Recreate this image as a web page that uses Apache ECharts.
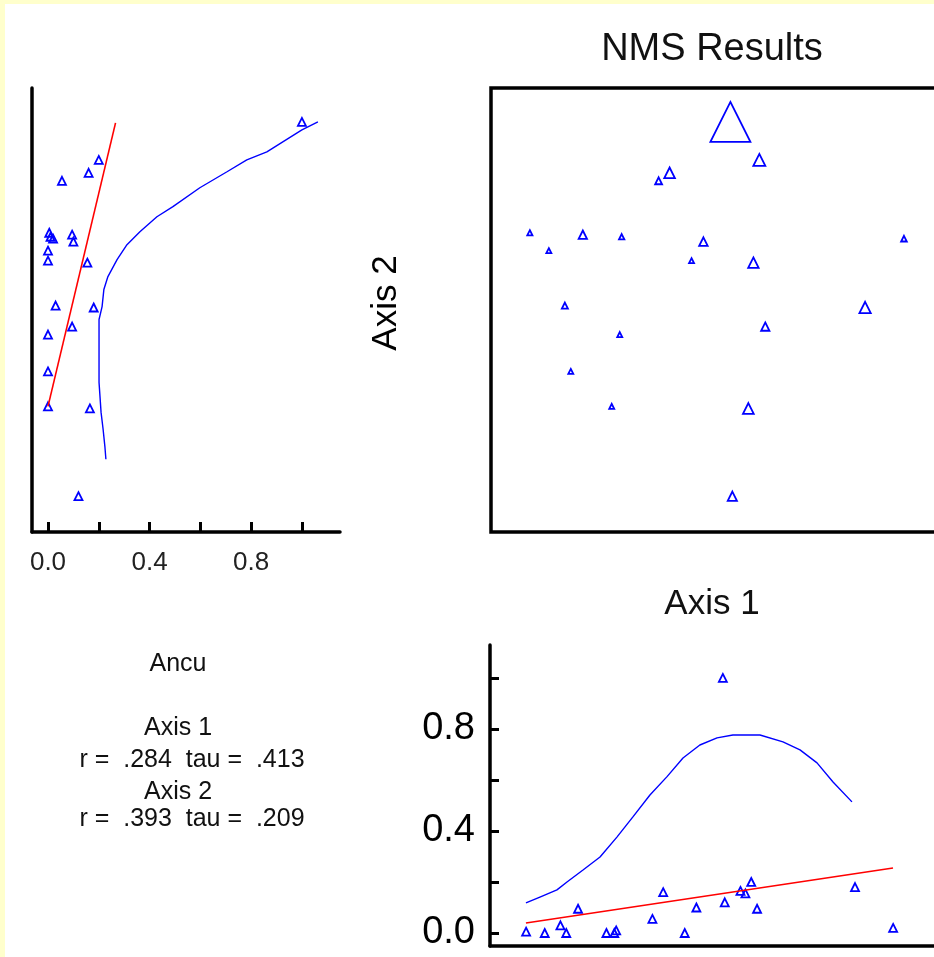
<!DOCTYPE html>
<html>
<head>
<meta charset="utf-8">
<script src="https://cdn.jsdelivr.net/npm/echarts@6/dist/echarts.min.js"></script>
<style>
  html, body { margin: 0; padding: 0; background: #fff; }
  #chart { width: 934px; height: 957px; }
</style>
</head>
<body>
<div id="chart"></div>
<script>
// NMS scores of the 20 sample units and the Ancu value of each
const axis1 = [0.114, 0.309, -0.296, -0.370, -1.238, -0.881, -0.619, -0.068, 1.284, -1.110,
               -0.148, 0.269, -1.002, 1.022, 0.349, -0.632, -0.962, -0.686, 0.235, 0.127];
const axis2 = [1.271, 1.014, 0.927, 0.873, 0.522, 0.509, 0.495, 0.462, 0.482, 0.401,
               0.333, 0.320, 0.030, 0.017, -0.112, -0.166, -0.415, -0.651, -0.665, -1.258];
const ancu = [1.0, 0.20, 0.16, 0.055, 0.005, 0.095, 0.01, 0.10, 0.02, 0.0,
              0.0, 0.155, 0.03, 0.18, 0.095, 0.0, 0.0, 0.0, 0.165, 0.12];

// linear fit and smoothed curve: Ancu against Axis 2 (left panel)
const leftLineAncu = [0.0, 0.266];
const leftLineAxis2 = [-0.651, 1.264];
const leftCurveAncu = [1.063, 1.0, 0.862, 0.783, 0.705, 0.598, 0.492, 0.429, 0.362, 0.311,
                       0.272, 0.236, 0.220, 0.213, 0.201, 0.201, 0.201, 0.209, 0.217, 0.224, 0.228];
const leftCurveAxis2 = [1.271, 1.217, 1.068, 1.014, 0.934, 0.826, 0.698, 0.630, 0.529, 0.441,
                        0.340, 0.226, 0.138, 0.023, -0.064, -0.246, -0.489, -0.692, -0.806, -0.921, -1.008];

// linear fit and smoothed curve: Ancu against Axis 1 (bottom panel)
const bottomLineAxis1 = [-1.239, 1.283];
const bottomLineAncu = [0.039, 0.255];
const bottomCurveAxis1 = [-1.239, -1.143, -1.026, -0.957, -0.847, -0.730, -0.614, -0.504, -0.387, -0.271,
                          -0.160, -0.044, 0.074, 0.183, 0.369, 0.527, 0.644, 0.761, 0.871, 1.001];
const bottomCurveAncu = [0.118, 0.141, 0.169, 0.200, 0.247, 0.298, 0.376, 0.455, 0.541, 0.612,
                         0.686, 0.737, 0.765, 0.776, 0.776, 0.749, 0.718, 0.667, 0.592, 0.514];

const ancuTicks = [0, 0.2, 0.4, 0.6, 0.8, 1.0];
const ancuLabels = [0, 0.4, 0.8];

const statLines = ['Ancu', '', 'Axis 1', 'r =  .284  tau =  .413', 'Axis 2', 'r =  .393  tau =  .209'];

const BLUE = '#0000ff';
const RED = '#ff0000';
const FONT = '"Liberation Sans", Arial, sans-serif';

const zip = (a, b) => a.map((v, i) => [v, b[i]]);

const axisLine = { show: true, onZero: false, lineStyle: { color: '#000', width: 3.5 } };

const tri = {
  symbol: 'triangle',
  itemStyle: { color: 'rgba(0,0,0,0)', borderColor: BLUE, borderWidth: 1.8, opacity: 1 }
};

const chart = echarts.init(document.getElementById('chart'));

const texts = [
  { text: 'NMS Results', x: 712, y: 50, size: 38 },
  { text: 'Axis 1', x: 712, y: 604, size: 35 },
  { text: statLines[0], x: 178, y: 664, size: 25 },
  { text: statLines[2], x: 178, y: 728, size: 25 },
  { text: statLines[3], x: 192, y: 760, size: 25 },
  { text: statLines[4], x: 178, y: 792, size: 25 },
  { text: statLines[5], x: 192, y: 819, size: 25 }
];

let option = {
  backgroundColor: '#fff',
  animation: false,
  grid: [
    { left: 32, top: 88, width: 308, height: 444, outerBoundsMode: 'none' },
    { left: 491, top: 88, width: 445, height: 444, show: true, borderColor: '#000',
      borderWidth: 3.5, backgroundColor: 'rgba(0,0,0,0)', outerBoundsMode: 'none' },
    { left: 490, top: 645, width: 450, height: 301, outerBoundsMode: 'none' }
  ],
  xAxis: [
    {
      gridIndex: 0, type: 'value', min: -0.063, max: 1.150,
      axisLine: axisLine,
      axisTick: { show: true, inside: true, length: 10, customValues: ancuTicks,
                  lineStyle: { color: '#000', width: 3 } },
      axisLabel: { customValues: ancuLabels, formatter: v => v.toFixed(1), margin: 18,
                   fontSize: 26, fontFamily: FONT, color: '#222' },
      splitLine: { show: false }
    },
    { gridIndex: 1, type: 'value', min: -1.5, max: 1.5, show: false },
    {
      gridIndex: 2, type: 'value', min: -1.486, max: 1.606,
      axisLine: axisLine, axisTick: { show: false }, axisLabel: { show: false },
      splitLine: { show: false }
    }
  ],
  yAxis: [
    {
      gridIndex: 0, type: 'value', min: -1.5, max: 1.5,
      axisLine: axisLine, axisTick: { show: false }, axisLabel: { show: false },
      splitLine: { show: false }
    },
    { gridIndex: 1, type: 'value', min: -1.5, max: 1.5, show: false },
    {
      gridIndex: 2, type: 'value', min: -0.051, max: 1.129,
      axisLine: axisLine,
      axisTick: { show: true, inside: true, length: 9, customValues: ancuTicks,
                  lineStyle: { color: '#000', width: 3 } },
      axisLabel: { customValues: ancuLabels, formatter: v => v.toFixed(1), margin: 15,
                   fontSize: 38, fontFamily: FONT, color: '#000' },
      splitLine: { show: false }
    }
  ],
  series: [
    {
      type: 'line', xAxisIndex: 0, yAxisIndex: 0, data: zip(leftLineAncu, leftLineAxis2),
      showSymbol: false, lineStyle: { color: RED, width: 1.6 }, silent: true
    },
    {
      type: 'line', xAxisIndex: 0, yAxisIndex: 0, data: zip(leftCurveAncu, leftCurveAxis2),
      showSymbol: false, lineStyle: { color: BLUE, width: 1.4 }, silent: true
    },
    Object.assign({
      type: 'scatter', xAxisIndex: 0, yAxisIndex: 0, data: zip(ancu, axis2),
      symbolSize: 8, silent: true
    }, tri),
    Object.assign({
      type: 'scatter', xAxisIndex: 1, yAxisIndex: 1,
      data: axis1.map((v, i) => [v, axis2[i], ancu[i]]),
      symbolSize: d => 5 + 35 * d[2], silent: true
    }, tri),
    {
      type: 'line', xAxisIndex: 2, yAxisIndex: 2, data: zip(bottomLineAxis1, bottomLineAncu),
      showSymbol: false, lineStyle: { color: RED, width: 1.6 }, silent: true
    },
    {
      type: 'line', xAxisIndex: 2, yAxisIndex: 2, data: zip(bottomCurveAxis1, bottomCurveAncu),
      showSymbol: false, lineStyle: { color: BLUE, width: 1.4 }, silent: true
    },
    Object.assign({
      type: 'scatter', xAxisIndex: 2, yAxisIndex: 2, data: zip(axis1, ancu),
      symbolSize: 8, silent: true
    }, tri)
  ],
  graphic: [
    { type: 'rect', shape: { x: 0, y: 0, width: 934, height: 4 }, style: { fill: '#ffffcc' }, silent: true },
    { type: 'rect', shape: { x: 0, y: 0, width: 5, height: 957 }, style: { fill: '#ffffcc' }, silent: true },
    {
      type: 'text', x: 386, y: 303, rotation: Math.PI / 2, silent: true,
      style: { text: 'Axis 2', x: 0, y: 0, font: '35px ' + FONT, fill: '#000',
               textAlign: 'center', textVerticalAlign: 'middle' }
    }
  ].concat(texts.map(t => ({
    type: 'text', silent: true,
    style: { text: t.text, x: t.x, y: t.y, font: t.size + 'px ' + FONT, fill: '#111',
             textAlign: 'center', textVerticalAlign: 'middle' }
  })))
};

chart.setOption(option);
</script>
</body>
</html>
